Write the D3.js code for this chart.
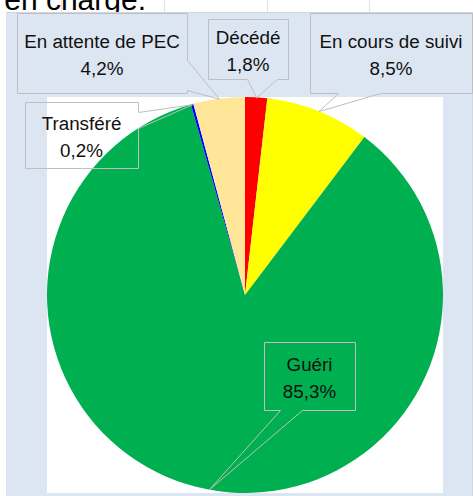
<!DOCTYPE html>
<html>
<head>
<meta charset="utf-8">
<script src="https://cdn.jsdelivr.net/npm/d3@7/dist/d3.min.js"></script>
<style>
  html, body { margin: 0; padding: 0; background: #ffffff; }
  svg { display: block; }
  text { font-family: "Liberation Sans", Arial, sans-serif; }
</style>
</head>
<body>
<svg id="chart" width="473" height="496"></svg>
<script>
// ---- data ----
const categories = ["Décédé", "En cours de suivi", "Guéri", "Transféré", "En attente de PEC"];
const values = [1.8, 8.5, 85.3, 0.2, 4.2];
const valueLabels = ["1,8%", "8,5%", "85,3%", "0,2%", "4,2%"];
const colors = ["#ff0000", "#ffff00", "#00b050", "#0000ff", "#ffe699"];
const titleText = "en charge.";

// ---- layout (callout boxes, one per category, same order) ----
const callouts = [
  { box: [208, 19, 288, 79],  side: "bottom", base: [247, 277] },
  { box: [310, 13, 472, 93],  side: "bottom", base: [338, 380] },
  { box: [264, 342, 355, 410], side: "bottom", base: [280, 302] },
  { box: [25, 102, 138, 168], side: "right",  base: [112, 128] },
  { box: [17, 13, 187, 93],   side: "right",  base: [60, 90] }
];

const W = 473, H = 496;
const cx = 245, cy = 295, r = 198;
const svg = d3.select("#chart");

// title fragment (cut at top)
svg.append("text")
  .attr("x", 146).attr("y", 10)
  .attr("text-anchor", "end")
  .attr("font-size", 30)
  .attr("fill", "#000")
  .text(titleText);

// faint slide grid ticks at top
[61, 164, 267, 369].forEach(x => {
  svg.append("line").attr("x1", x + 0.5).attr("x2", x + 0.5)
    .attr("y1", 0).attr("y2", 12)
    .attr("stroke", "#e3e3e3").attr("stroke-width", 1);
});

// chart area background
svg.append("rect").attr("x", 6).attr("y", 12).attr("width", W - 6).attr("height", H - 12)
  .attr("fill", "#dce6f2");
svg.append("line").attr("x1", 6).attr("x2", 472.5).attr("y1", 12.5).attr("y2", 12.5)
  .attr("stroke", "#cfd6de");
svg.append("line").attr("x1", 472.5).attr("x2", 472.5).attr("y1", 12).attr("y2", H)
  .attr("stroke", "#cfd6de");

// plot area
svg.append("rect").attr("x", cx - r).attr("y", cy - r).attr("width", 2 * r).attr("height", 2 * r)
  .attr("fill", "#ffffff");

// pie
const pie = d3.pie().sort(null).value(d => d)(values);
const arc = d3.arc().innerRadius(0).outerRadius(r);
const rim = d3.arc().innerRadius(r).outerRadius(r);
const g = svg.append("g").attr("transform", `translate(${cx},${cy})`);
g.selectAll("path.slice").data(pie).join("path")
  .attr("class", "slice")
  .attr("d", arc)
  .attr("fill", (d, i) => colors[i]);

// callouts
pie.forEach((d, i) => {
  const c = callouts[i];
  const [x0, y0, x1, y1] = c.box;
  const t = rim.centroid(d);
  const tx = cx + t[0], ty = cy + t[1];
  let pts;
  if (c.side === "right") {
    pts = [[x0, y0], [x1, y0], [x1, c.base[0]], [tx, ty], [x1, c.base[1]], [x1, y1], [x0, y1]];
  } else {
    pts = [[x0, y0], [x1, y0], [x1, y1], [c.base[1], y1], [tx, ty], [c.base[0], y1], [x0, y1]];
  }
  svg.append("path")
    .attr("d", "M" + pts.map(p => p[0] + 0.5 + "," + (p[1] + 0.5)).join("L") + "Z")
    .attr("fill", "none")
    .attr("stroke", "#bfbfbf")
    .attr("stroke-width", 1);
  const mx = (x0 + x1) / 2, my = (y0 + y1) / 2;
  const tg = svg.append("text").attr("text-anchor", "middle").attr("font-size", 18.8).attr("fill", "#111");
  tg.append("tspan").attr("x", mx).attr("y", my - 5).text(categories[i]);
  tg.append("tspan").attr("x", mx).attr("y", my + 21.5).text(valueLabels[i]);
});
</script>
</body>
</html>
